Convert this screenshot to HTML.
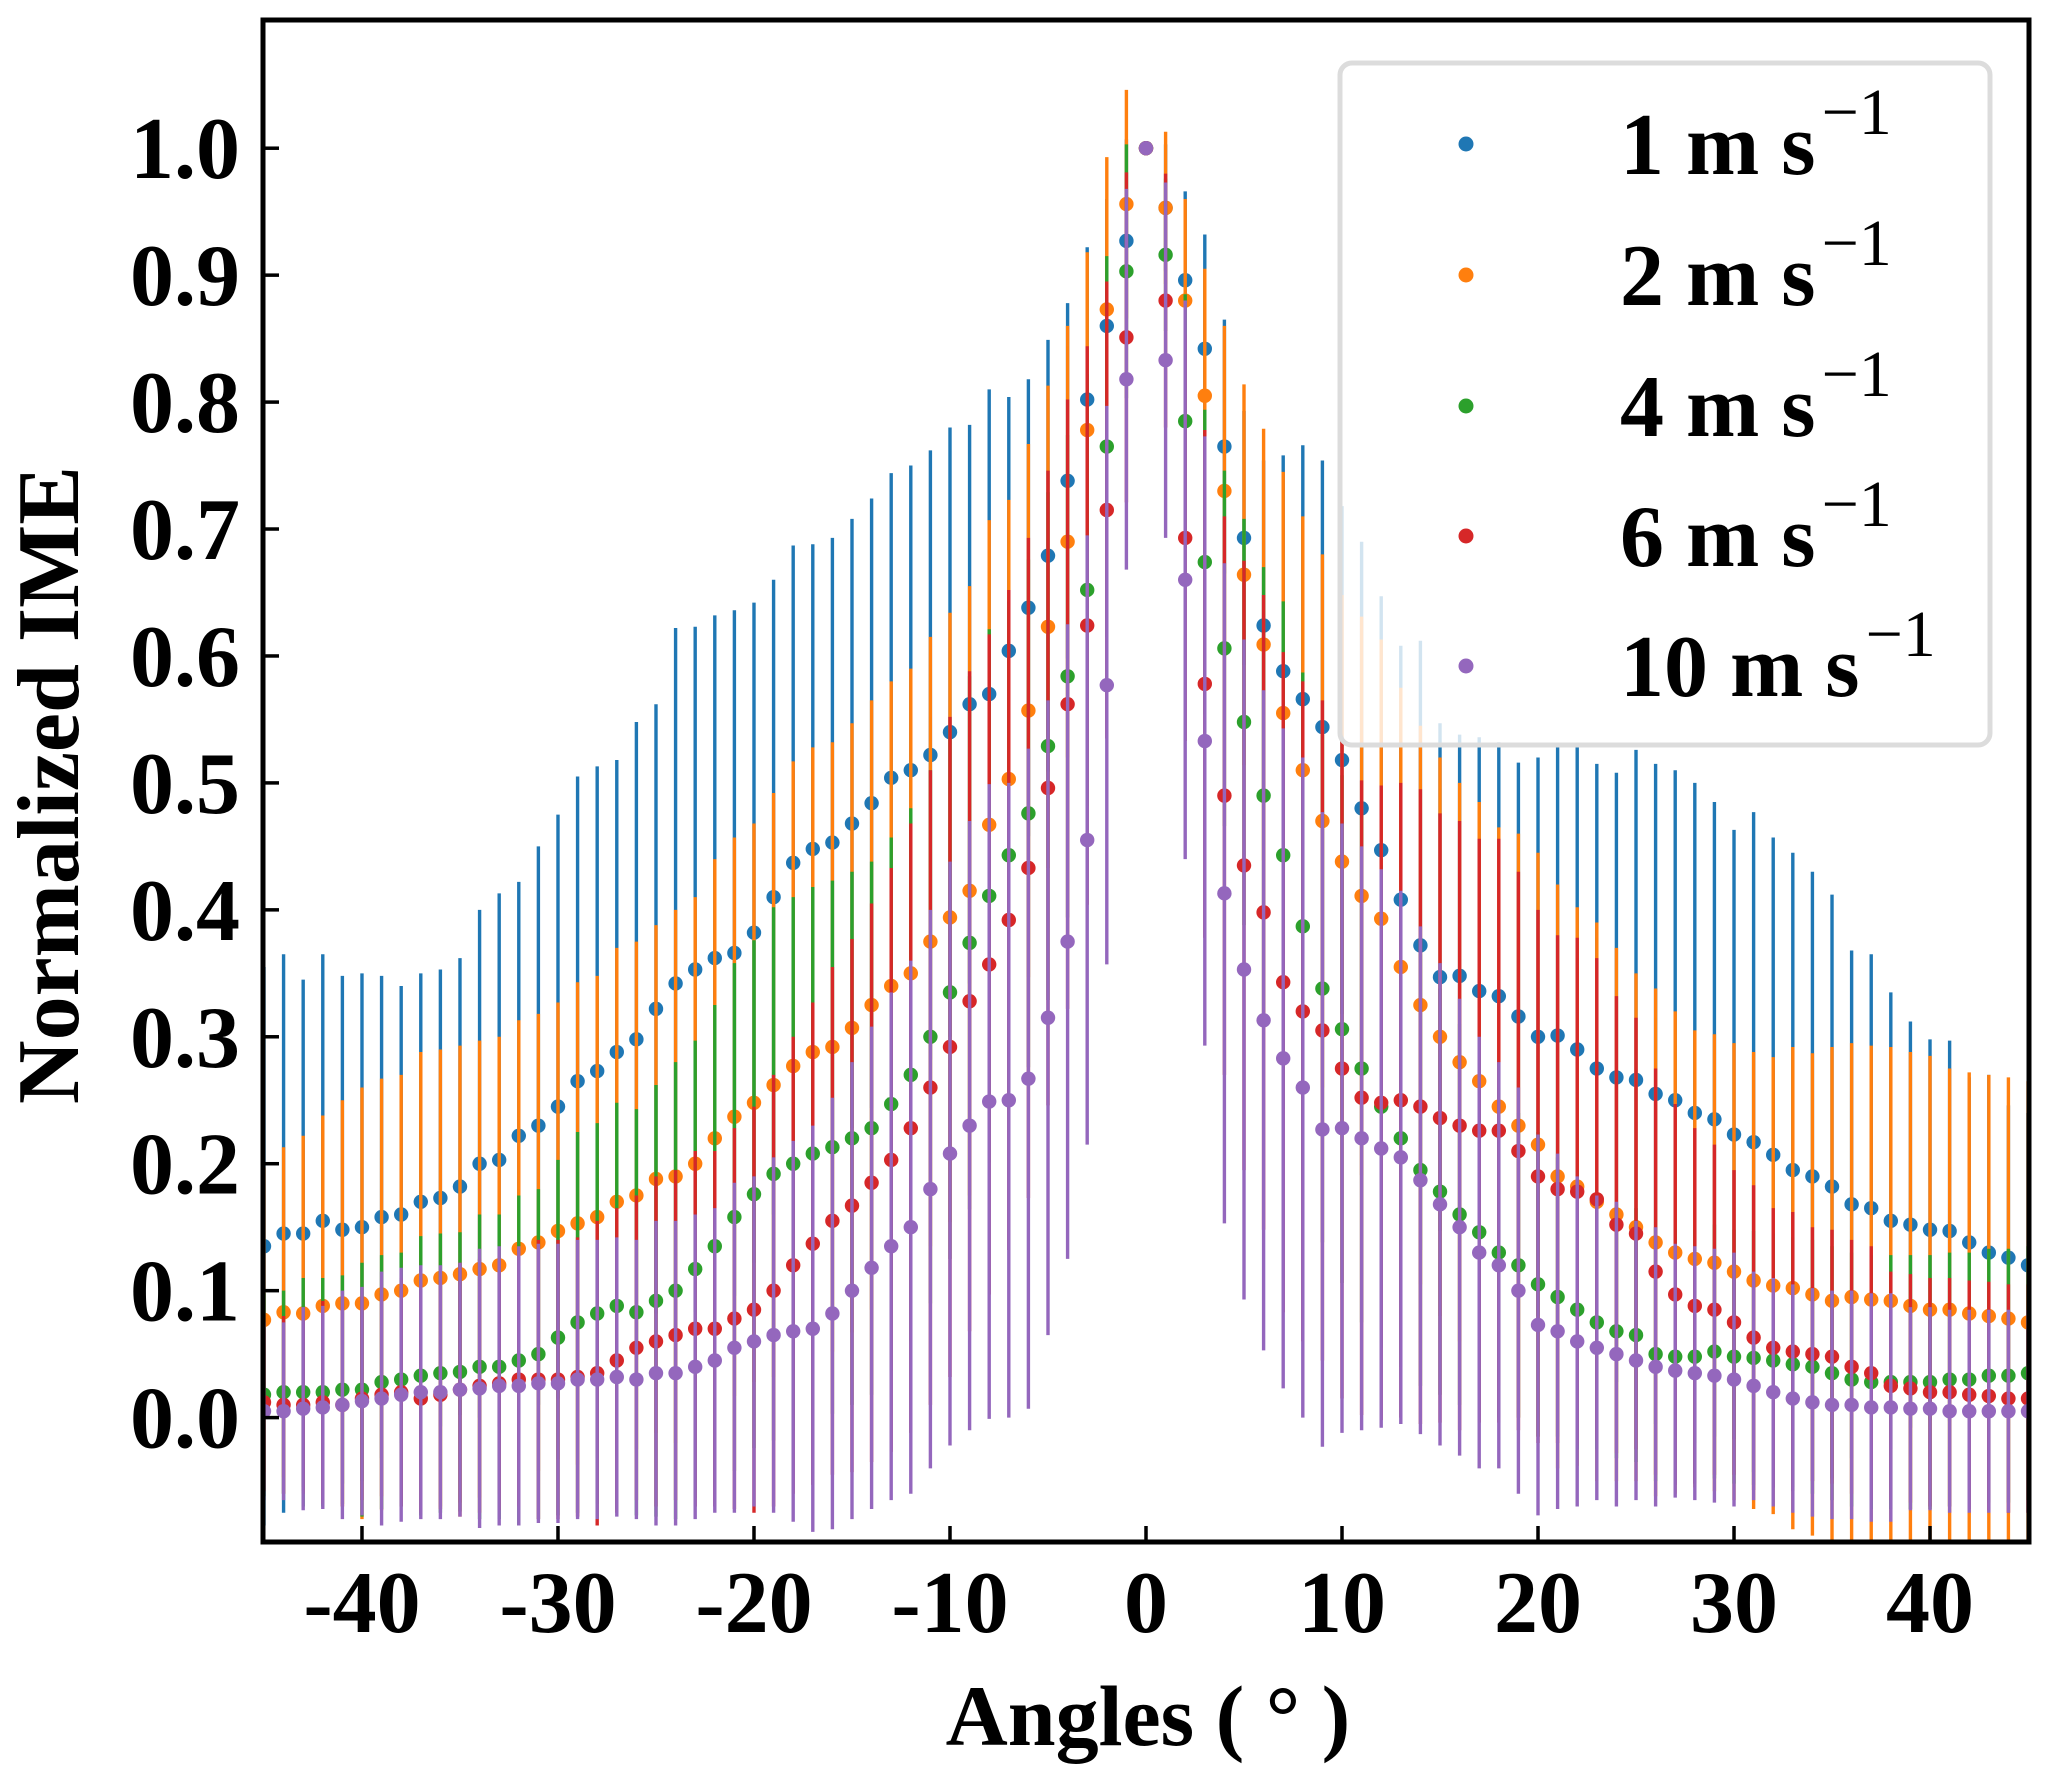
<!DOCTYPE html>
<html><head><meta charset="utf-8">
<style>
html,body{margin:0;padding:0;background:#fff;}
svg{display:block;}
text{font-family:"Liberation Serif",serif;font-weight:bold;fill:#000;}
</style></head>
<body>
<svg id="chart" width="2053" height="1780" viewBox="0 0 2053 1780" xmlns="http://www.w3.org/2000/svg">
<defs><clipPath id="plotclip"><rect x="263" y="20" width="1766" height="1522"/></clipPath></defs>
<rect x="0" y="0" width="2053" height="1780" fill="#fff"/>
<g id="series" clip-path="url(#plotclip)"></g>
<g id="axes"></g>
<g id="legend"></g>
</svg>
<script>
const angles = [];
for (let a = -45; a <= 45; a++) angles.push(a);
const seriesNames = ["1 m s", "2 m s", "4 m s", "6 m s", "10 m s"];
const seriesColors = ["#1f77b4", "#ff7f0e", "#2ca02c", "#d62728", "#9467bd"];
const v1 = [0.135,0.145,0.145,0.155,0.148,0.15,0.158,0.16,0.17,0.173,0.182,0.2,0.203,0.222,0.23,0.245,0.265,0.273,0.288,0.298,0.322,0.342,0.353,0.362,0.366,0.382,0.41,0.437,0.448,0.453,0.468,0.484,0.504,0.51,0.522,0.54,0.562,0.57,0.604,0.638,0.679,0.738,0.802,0.86,0.927,1.0,0.953,0.896,0.842,0.765,0.693,0.624,0.588,0.566,0.544,0.518,0.48,0.447,0.408,0.372,0.347,0.348,0.336,0.332,0.316,0.3,0.301,0.29,0.275,0.268,0.266,0.255,0.25,0.24,0.235,0.223,0.217,0.207,0.195,0.19,0.182,0.168,0.165,0.155,0.152,0.148,0.147,0.138,0.13,0.126,0.12];
const e1 = [0.22,0.22,0.2,0.21,0.2,0.2,0.19,0.18,0.18,0.18,0.18,0.2,0.21,0.2,0.22,0.23,0.24,0.24,0.23,0.25,0.24,0.28,0.27,0.27,0.27,0.26,0.25,0.25,0.24,0.24,0.24,0.24,0.24,0.24,0.24,0.24,0.22,0.24,0.2,0.18,0.17,0.14,0.12,0.1,0.08,0,0.05,0.07,0.09,0.1,0.1,0.13,0.17,0.2,0.21,0.2,0.21,0.2,0.2,0.24,0.2,0.19,0.2,0.2,0.2,0.22,0.23,0.24,0.24,0.24,0.26,0.26,0.26,0.26,0.25,0.24,0.26,0.25,0.25,0.24,0.23,0.2,0.2,0.18,0.16,0.15,0.15,0.13,0.14,0.12,0.12];
const v2 = [0.077,0.083,0.082,0.088,0.09,0.09,0.097,0.1,0.108,0.11,0.113,0.117,0.12,0.133,0.138,0.147,0.153,0.158,0.17,0.175,0.188,0.19,0.2,0.22,0.237,0.248,0.262,0.277,0.288,0.292,0.307,0.325,0.34,0.35,0.375,0.394,0.415,0.467,0.503,0.557,0.623,0.69,0.778,0.873,0.956,1.0,0.953,0.88,0.805,0.73,0.664,0.609,0.555,0.51,0.47,0.438,0.411,0.393,0.355,0.325,0.3,0.28,0.265,0.245,0.23,0.215,0.19,0.182,0.17,0.16,0.15,0.138,0.13,0.125,0.122,0.115,0.108,0.104,0.102,0.097,0.092,0.095,0.093,0.092,0.088,0.085,0.085,0.082,0.08,0.078,0.075];
const e2 = [0.12,0.13,0.14,0.15,0.16,0.17,0.17,0.17,0.18,0.18,0.18,0.18,0.18,0.18,0.18,0.18,0.19,0.19,0.2,0.2,0.2,0.21,0.21,0.22,0.22,0.22,0.23,0.24,0.24,0.24,0.24,0.24,0.24,0.24,0.24,0.24,0.24,0.24,0.22,0.21,0.19,0.17,0.14,0.12,0.09,0,0.06,0.08,0.1,0.13,0.15,0.17,0.19,0.2,0.21,0.21,0.22,0.22,0.22,0.22,0.22,0.22,0.22,0.22,0.23,0.23,0.23,0.22,0.22,0.21,0.2,0.2,0.19,0.18,0.18,0.18,0.18,0.18,0.19,0.19,0.2,0.2,0.2,0.2,0.2,0.2,0.19,0.19,0.19,0.19,0.19];
const v3 = [0.018,0.02,0.02,0.02,0.022,0.022,0.028,0.03,0.033,0.035,0.036,0.04,0.04,0.045,0.05,0.063,0.075,0.082,0.088,0.083,0.092,0.1,0.117,0.135,0.158,0.176,0.192,0.2,0.208,0.213,0.22,0.228,0.247,0.27,0.3,0.335,0.374,0.411,0.443,0.476,0.529,0.584,0.652,0.765,0.903,1.0,0.916,0.785,0.674,0.606,0.548,0.49,0.443,0.387,0.338,0.306,0.275,0.245,0.22,0.195,0.178,0.16,0.146,0.13,0.12,0.105,0.095,0.085,0.075,0.068,0.065,0.05,0.048,0.048,0.052,0.048,0.047,0.045,0.042,0.04,0.035,0.03,0.028,0.028,0.028,0.028,0.03,0.03,0.033,0.033,0.035];
const e3 = [0.08,0.08,0.09,0.09,0.09,0.1,0.1,0.1,0.11,0.11,0.11,0.12,0.12,0.13,0.13,0.14,0.15,0.15,0.16,0.16,0.17,0.18,0.18,0.19,0.2,0.2,0.21,0.21,0.21,0.21,0.21,0.21,0.21,0.21,0.21,0.21,0.21,0.21,0.2,0.2,0.2,0.19,0.17,0.15,0.1,0,0.06,0.1,0.12,0.14,0.16,0.18,0.2,0.2,0.2,0.2,0.2,0.19,0.18,0.17,0.16,0.15,0.14,0.13,0.12,0.12,0.11,0.11,0.1,0.1,0.1,0.1,0.1,0.1,0.1,0.1,0.1,0.1,0.1,0.1,0.1,0.1,0.1,0.1,0.1,0.1,0.1,0.1,0.1,0.1,0.1];
const v4 = [0.012,0.01,0.01,0.012,0.01,0.015,0.018,0.02,0.015,0.018,0.022,0.025,0.027,0.03,0.03,0.03,0.032,0.035,0.045,0.055,0.06,0.065,0.07,0.07,0.078,0.085,0.1,0.12,0.137,0.155,0.167,0.185,0.203,0.228,0.26,0.292,0.328,0.357,0.392,0.433,0.496,0.562,0.624,0.715,0.851,1.0,0.88,0.693,0.578,0.49,0.435,0.398,0.343,0.32,0.305,0.275,0.252,0.248,0.25,0.245,0.236,0.23,0.226,0.226,0.21,0.19,0.18,0.178,0.172,0.152,0.145,0.115,0.097,0.088,0.085,0.075,0.063,0.055,0.052,0.05,0.048,0.04,0.035,0.025,0.023,0.02,0.02,0.018,0.017,0.015,0.015];
const e4 = [0.07,0.07,0.07,0.08,0.08,0.08,0.08,0.09,0.09,0.09,0.1,0.1,0.1,0.1,0.11,0.11,0.11,0.12,0.12,0.12,0.13,0.13,0.14,0.14,0.15,0.16,0.17,0.18,0.19,0.2,0.21,0.22,0.23,0.24,0.25,0.26,0.26,0.26,0.26,0.26,0.25,0.24,0.22,0.18,0.13,0,0.1,0.16,0.2,0.22,0.24,0.25,0.26,0.26,0.26,0.26,0.25,0.25,0.25,0.25,0.24,0.24,0.23,0.23,0.22,0.21,0.2,0.2,0.19,0.18,0.17,0.16,0.15,0.14,0.13,0.12,0.12,0.11,0.11,0.1,0.1,0.1,0.1,0.09,0.09,0.09,0.09,0.09,0.09,0.09,0.09];
const v5 = [0.005,0.005,0.007,0.008,0.01,0.013,0.015,0.018,0.02,0.02,0.022,0.023,0.025,0.025,0.027,0.027,0.03,0.03,0.032,0.03,0.035,0.035,0.04,0.045,0.055,0.06,0.065,0.068,0.07,0.082,0.1,0.118,0.135,0.15,0.18,0.208,0.23,0.249,0.25,0.267,0.315,0.375,0.455,0.577,0.818,1.0,0.833,0.66,0.533,0.413,0.353,0.313,0.283,0.26,0.227,0.228,0.22,0.212,0.205,0.187,0.168,0.15,0.13,0.12,0.1,0.073,0.068,0.06,0.055,0.05,0.045,0.04,0.037,0.035,0.033,0.03,0.025,0.02,0.015,0.012,0.01,0.01,0.008,0.008,0.007,0.007,0.005,0.005,0.005,0.005,0.005];
const e5 = [0.07,0.07,0.08,0.08,0.09,0.09,0.1,0.1,0.1,0.1,0.1,0.11,0.11,0.11,0.11,0.11,0.11,0.11,0.11,0.11,0.12,0.12,0.12,0.12,0.13,0.13,0.14,0.15,0.16,0.17,0.18,0.19,0.2,0.21,0.22,0.23,0.24,0.25,0.25,0.26,0.25,0.25,0.24,0.22,0.15,0,0.14,0.22,0.24,0.26,0.26,0.26,0.26,0.26,0.25,0.24,0.23,0.22,0.21,0.2,0.19,0.18,0.17,0.16,0.16,0.15,0.14,0.13,0.12,0.12,0.11,0.11,0.1,0.1,0.1,0.1,0.09,0.09,0.09,0.09,0.09,0.09,0.09,0.09,0.08,0.08,0.08,0.08,0.08,0.08,0.08];
const seriesValues = [v1, v2, v3, v4, v5];
const seriesErrors = [e1, e2, e3, e4, e5];
const xTicks = [-40, -30, -20, -10, 0, 10, 20, 30, 40];
const yTicks = [0.0, 0.1, 0.2, 0.3, 0.4, 0.5, 0.6, 0.7, 0.8, 0.9, 1.0];

const NS = "http://www.w3.org/2000/svg";
const L = 263, R = 2029, T = 20, B = 1542;
const xMin = -45.05, xMax = 45.05, yMin = -0.098, yMax = 1.101;
const xs = v => L + (v - xMin) / (xMax - xMin) * (R - L);
const ys = v => B - (v - yMin) / (yMax - yMin) * (B - T);
function mk(tag, attrs, parent) {
  const el = document.createElementNS(NS, tag);
  for (const k in attrs) el.setAttribute(k, attrs[k]);
  parent.appendChild(el);
  return el;
}
const gS = document.getElementById("series");
const gA = document.getElementById("axes");
const gL = document.getElementById("legend");

seriesValues.forEach((vals, si) => {
  const g = mk("g", {}, gS);
  
  
  const col = seriesColors[si];
  vals.forEach((v, i) => {
    const e = seriesErrors[si][i];
    const x = xs(angles[i]);
    if (e > 0) {
      const ln = mk("line", {x1: x, x2: x, y1: ys(v - e), y2: ys(v + e), stroke: col, "stroke-width": 3.4}, g);
      
      
    }
  });
  vals.forEach((v, i) => {
    const c = mk("circle", {cx: xs(angles[i]), cy: ys(v), r: 7.2, fill: col}, g);
    
    
  });
});

const frame = mk("rect", {x: L, y: T, width: R - L, height: B - T, fill: "none", stroke: "#000", "stroke-width": 5}, gA);



xTicks.forEach(t => {
  const x = xs(t);
  const tk = mk("line", {x1: x, x2: x, y1: B, y2: B - 16, stroke: "#000", "stroke-width": 3.5}, gA);
  
  
  const lb = mk("text", {x: x, y: 1632, "text-anchor": "middle", "font-size": 88}, gA);
  lb.textContent = String(t);
  
  
});
yTicks.forEach(t => {
  const y = ys(t);
  const tk = mk("line", {x1: L, x2: L + 16, y1: y, y2: y, stroke: "#000", "stroke-width": 3.5}, gA);
  
  
  const lb = mk("text", {x: 240, y: y + 30, "text-anchor": "end", "font-size": 88}, gA);
  lb.textContent = t.toFixed(1);
  
  
});
const xl = mk("text", {x: 1148, y: 1745, "text-anchor": "middle", "font-size": 86}, gA);
xl.textContent = "Angles ( ° )";


const yl = mk("text", {x: 0, y: 0, "text-anchor": "middle", "font-size": 88, transform: "translate(78,785) rotate(-90)"}, gA);
yl.textContent = "Normalized IME";



const lbox = mk("rect", {x: 1340, y: 63, width: 650, height: 682, rx: 12, fill: "#fff", "fill-opacity": 0.8, stroke: "#dcdcdc", "stroke-width": 5}, gL);


const rowsY = [144, 275, 406, 536, 666];
seriesNames.forEach((n, i) => {
  const g = mk("g", {}, gL);
  
  
  const c = mk("circle", {cx: 1466, cy: rowsY[i], r: 7.5, fill: seriesColors[i]}, g);
  
  
  const tx = mk("text", {x: 1620, y: rowsY[i] + 30, "font-size": 88}, g);
  
  
  tx.textContent = n;
  const sup = mk("tspan", {dx: 6, dy: -40, "font-size": 66, "font-weight": "normal"}, tx);
  sup.textContent = "\u22121";
});
</script>
</body></html>
